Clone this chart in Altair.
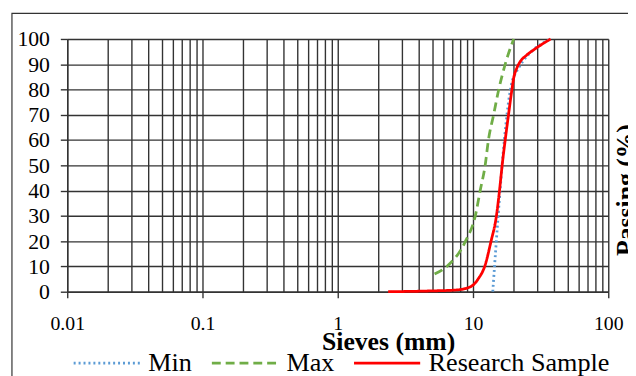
import altair as alt
import pandas as pd

# ---- data ----
min_size = [14, 20, 37.5]
min_pass = [0, 85, 100]

max_size = [5.2, 6.4, 8.8, 10.4, 11.3, 12.3, 13.0, 14.2, 15.5, 17.3, 20.0]
max_pass = [7, 10, 20, 30, 40, 50, 60, 70, 80, 90, 100]

res_size = [2.36, 4.75, 7.6, 9.6, 11.0, 12.2, 13.6, 14.9, 15.7, 16.5, 17.3, 18.3,
            19.4, 20.0, 21.1, 22.3, 24.8, 28.8, 37.5]
res_pass = [0, 0.3, 0.7, 2, 5.3, 10, 20, 30, 40, 51, 60, 70,
            80, 84.6, 88.5, 91, 93.5, 96.1, 100]

series_names = ["Min", "Max", "Research Sample"]
series_colors = ["#5B9BD5", "#70AD47", "#FF0000"]
series_dash = [[2, 3], [9, 5], [1, 0]]

x_grid = [round(k * 10 ** e, 4) for e in range(-2, 2) for k in range(1, 10)] + [100]
y_ticks = list(range(0, 101, 10))

rows = []
for name, xs, ys in zip(series_names, [min_size, max_size, res_size],
                        [min_pass, max_pass, res_pass]):
    for i, (a, b) in enumerate(zip(xs, ys)):
        rows.append({"size": a, "passing": b, "series": name, "order": i})
df = pd.DataFrame(rows)

FONT = "Liberation Serif"
decade = "abs(log(datum.value)/LN10 - round(log(datum.value)/LN10)) < 0.001"

x_enc = alt.X(
    "size:Q",
    scale=alt.Scale(type="log", domain=[0.01, 100], nice=False),
    axis=alt.Axis(
        values=x_grid,
        format="~g",
        labelExpr=f"{decade} ? datum.label : ''",
        tickOpacity={"condition": {"test": decade, "value": 1}, "value": 0},
        tickSize=6,
        tickColor="#333333",
        tickWidth=1.4,
        grid=True,
        gridColor="#333333",
        gridWidth=1.4,
        domainColor="#333333",
        domainWidth=1.4,
        labelFont=FONT,
        labelFontSize=20,
        labelColor="#000000",
        labelPadding=16,
        labelFlush=False,
        title="Sieves (mm)",
        titleFont=FONT,
        titleFontSize=26,
        titleFontWeight="bold",
        titleColor="#000000",
        titleX=325,
        titleY=59,
        titleAlign="center",
        titleBaseline="alphabetic",
    ),
)

y_enc = alt.Y(
    "passing:Q",
    scale=alt.Scale(domain=[0, 100], nice=False),
    axis=alt.Axis(
        values=y_ticks,
        grid=True,
        gridColor="#333333",
        gridWidth=1.4,
        domainColor="#333333",
        domainWidth=1.4,
        tickSize=7,
        tickColor="#333333",
        tickWidth=1.4,
        labelFont=FONT,
        labelFontSize=22,
        labelColor="#000000",
        labelPadding=11,
        labelFlush=False,
        title=None,
    ),
)

legend = alt.Legend(
    title=None,
    orient="none",
    direction="horizontal",
    legendX=5,
    legendY=293,
    symbolType="stroke",
    symbolSize=4489,
    symbolStrokeWidth=2.8,
    labelFont=FONT,
    labelFontSize=26.5,
    labelColor="#000000",
    labelOffset=7,
    labelLimit=0,
    columnPadding=13,
)

lines = alt.Chart(df).mark_line(interpolate="monotone", strokeWidth=2.8).encode(
    x=x_enc,
    y=y_enc,
    color=alt.Color("series:N",
                    scale=alt.Scale(domain=series_names, range=series_colors),
                    legend=legend),
    strokeDash=alt.StrokeDash("series:N",
                              scale=alt.Scale(domain=series_names, range=series_dash),
                              legend=legend),
    order="order:Q",
    detail="series:N",
)

frame = alt.Chart(pd.DataFrame({"a": [0]})).mark_rect(
    fill=None, stroke="#333333", strokeWidth=1.2
).encode(
    x=alt.value(-56), x2=alt.value(800), y=alt.value(-26), y2=alt.value(600)
)

ytitle = alt.Chart(pd.DataFrame({"t": ["Passing (%)"]})).mark_text(
    angle=270, baseline="alphabetic", align="center", font=FONT, fontSize=26,
    fontWeight="bold", color="#000000"
).encode(x=alt.value(574), y=alt.value(153), text="t:N")

chart = alt.layer(frame, lines, ytitle).properties(
    width=548,
    height=256,
    autosize=alt.AutoSizeParams(type="none"),
    padding={"left": 60, "top": 29, "right": 20, "bottom": 83},
).configure_view(stroke=None).configure(background="#ffffff")

chart.save("out.html", embed_options={"renderer": "svg", "actions": False})
